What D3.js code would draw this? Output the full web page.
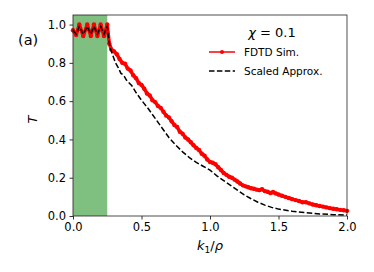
<!DOCTYPE html>
<html>
<head>
<meta charset="utf-8">
<script src="https://cdn.jsdelivr.net/npm/d3@7"></script>
<style>
  body { margin: 0; background: #fff; }
  text { font-family: "DejaVu Sans", sans-serif; }
</style>
</head>
<body>
<div id="chart"></div>
<script>
// FDTD simulation (red)
const simX = [0.000, 0.023, 0.046, 0.075, 0.104, 0.130, 0.153, 0.178, 0.202, 0.226, 0.250,
  0.265, 0.28, 0.30, 0.32, 0.34, 0.36, 0.38, 0.40, 0.42, 0.44, 0.46, 0.48, 0.50, 0.52, 0.54,
  0.56, 0.58, 0.60, 0.62, 0.64, 0.66, 0.68, 0.70, 0.72, 0.74, 0.76, 0.78, 0.80, 0.82, 0.84,
  0.86, 0.88, 0.90, 0.92, 0.94, 0.96, 0.98, 1.00, 1.02, 1.04, 1.06, 1.08, 1.10, 1.12, 1.14,
  1.16, 1.18, 1.20, 1.22, 1.24, 1.26, 1.28, 1.30, 1.32, 1.34, 1.36, 1.38, 1.40, 1.42, 1.44,
  1.46, 1.48, 1.50, 1.525, 1.55, 1.575, 1.60, 1.625, 1.65, 1.675, 1.70, 1.725, 1.75, 1.775,
  1.80, 1.825, 1.85, 1.875, 1.90, 1.925, 1.95, 1.975, 2.00]
const simT = [0.97, 0.945, 1.00, 0.94, 1.00, 0.94, 1.00, 0.94, 1.00, 0.94, 1.00,
  0.90, 0.87, 0.86, 0.845, 0.82, 0.80, 0.795, 0.77, 0.76, 0.735, 0.72, 0.695, 0.685, 0.665, 0.64,
  0.63, 0.605, 0.595, 0.575, 0.565, 0.545, 0.525, 0.515, 0.495, 0.475, 0.465, 0.44, 0.43, 0.41, 0.40,
  0.385, 0.37, 0.355, 0.345, 0.325, 0.315, 0.295, 0.282, 0.278, 0.27, 0.255, 0.24, 0.225, 0.215, 0.205,
  0.20, 0.19, 0.18, 0.17, 0.16, 0.155, 0.15, 0.145, 0.142, 0.138, 0.135, 0.14, 0.13, 0.127, 0.12,
  0.125, 0.118, 0.112, 0.106, 0.10, 0.094, 0.088, 0.083, 0.078, 0.072, 0.072, 0.066, 0.06, 0.056,
  0.052, 0.049, 0.045, 0.041, 0.038, 0.035, 0.032, 0.03, 0.027]

// scaled approximation (black dashed)
const apxX = [0.000, 0.023, 0.046, 0.075, 0.104, 0.130, 0.153, 0.178, 0.202, 0.226, 0.250,
  0.26, 0.27, 0.29, 0.31, 0.33, 0.35, 0.37, 0.39, 0.41, 0.43, 0.46, 0.50, 0.55, 0.60, 0.65,
  0.70, 0.75, 0.80, 0.85, 0.90, 0.95, 1.00, 1.05, 1.10, 1.15, 1.20, 1.25, 1.30, 1.35, 1.40,
  1.45, 1.50, 1.60, 1.70, 1.80, 1.90, 2.00]
const apxT = [0.97, 0.95, 0.99, 0.95, 0.99, 0.95, 0.99, 0.95, 0.99, 0.95, 0.99,
  0.93, 0.88, 0.84, 0.80, 0.775, 0.745, 0.735, 0.71, 0.695, 0.68, 0.645, 0.605, 0.56, 0.51, 0.46,
  0.41, 0.37, 0.335, 0.305, 0.28, 0.26, 0.24, 0.21, 0.185, 0.16, 0.135, 0.11, 0.09, 0.072, 0.057,
  0.045, 0.036, 0.025, 0.017, 0.011, 0.007, 0.005]

const band = [0, 0.25]
const xTicks = [0.0, 0.5, 1.0, 1.5, 2.0]
const yTicks = [0.0, 0.2, 0.4, 0.6, 0.8, 1.0]

const width = 374
const height = 272
const margin = {top: 15, right: 27, bottom: 56, left: 73}

const svg = d3.select("#chart")
    .append("svg")
    .attr("width", width)
    .attr("height", height)

const x = d3.scaleLinear().domain([0, 2]).range([margin.left, width - margin.right])
const y = d3.scaleLinear().domain([0, 1.05]).range([height - margin.bottom, margin.top])

// shaded region
svg.append("rect")
    .attr("x", x(band[0]))
    .attr("y", y(1.05))
    .attr("width", x(band[1]) - x(band[0]))
    .attr("height", y(0) - y(1.05))
    .attr("fill", "green")
    .attr("fill-opacity", 0.5)

const line = d3.line().x(d => x(d[0])).y(d => y(d[1]))
const simData = simX.map((v, i) => [v, simT[i]])
const apxData = apxX.map((v, i) => [v, apxT[i]])

svg.append("path")
    .datum(simData)
    .attr("fill", "none")
    .attr("stroke", "red")
    .attr("stroke-width", 3.5)
    .attr("stroke-linejoin", "round")
    .attr("d", line)

svg.append("g").selectAll("circle")
    .data(simData)
    .join("circle")
    .attr("cx", d => x(d[0]))
    .attr("cy", d => y(d[1]))
    .attr("r", 2.2)
    .attr("fill", "red")

svg.append("path")
    .datum(apxData)
    .attr("fill", "none")
    .attr("stroke", "black")
    .attr("stroke-width", 1.5)
    .attr("stroke-dasharray", "5.5,2.4")
    .attr("d", line)

// axes
svg.append("g")
    .attr("transform", `translate(0,${height - margin.bottom})`)
    .call(d3.axisBottom(x).tickValues(xTicks).tickFormat(d3.format(".1f")).tickSizeOuter(0).tickSize(3.5).tickPadding(3.5))
svg.append("g")
    .attr("transform", `translate(${margin.left},0)`)
    .call(d3.axisLeft(y).tickValues(yTicks).tickFormat(d3.format(".1f")).tickSizeOuter(0).tickSize(3.5).tickPadding(3.5))

svg.selectAll(".tick text").style("font-size", "11.5px").attr("fill", "#000")
svg.selectAll(".tick line").attr("stroke", "#000").attr("stroke-width", 0.8)
svg.selectAll(".domain").remove()

// frame
svg.append("rect")
    .attr("x", margin.left)
    .attr("y", margin.top)
    .attr("width", width - margin.left - margin.right)
    .attr("height", height - margin.top - margin.bottom)
    .attr("fill", "none")
    .attr("stroke", "#222")
    .attr("stroke-width", 0.8)

// labels
svg.append("text")
    .attr("x", 18).attr("y", 45)
    .style("font-size", "14.5px")
    .text("(a)")

svg.append("text")
    .attr("transform", `translate(37,${(margin.top + height - margin.bottom) / 2 + 4}) rotate(-90)`)
    .attr("text-anchor", "middle")
    .style("font-size", "13px")
    .style("font-style", "italic")
    .text("T")

const xl = svg.append("text")
    .attr("x", (margin.left + width - margin.right) / 2)
    .attr("y", 250)
    .attr("text-anchor", "middle")
    .style("font-size", "13px")
xl.append("tspan").style("font-style", "italic").text("k")
xl.append("tspan").attr("dy", 3).style("font-size", "9px").text("1")
xl.append("tspan").attr("dy", -3).text("/")
xl.append("tspan").style("font-style", "italic").text("ρ")

// legend
const lg = svg.append("g")
const title = lg.append("text")
    .attr("x", 272).attr("y", 37)
    .attr("text-anchor", "middle")
    .style("font-size", "13px")
title.append("tspan").style("font-style", "italic").text("χ")
title.append("tspan").text(" = 0.1")

lg.append("line")
    .attr("x1", 209).attr("x2", 235).attr("y1", 52).attr("y2", 52)
    .attr("stroke", "red").attr("stroke-width", 1.5)
lg.append("circle").attr("cx", 222).attr("cy", 52).attr("r", 2).attr("fill", "red")
lg.append("text").attr("x", 244).attr("y", 56)
    .style("font-size", "10.5px").text("FDTD Sim.")

lg.append("line")
    .attr("x1", 209).attr("x2", 235).attr("y1", 71).attr("y2", 71)
    .attr("stroke", "black").attr("stroke-width", 1.5)
    .attr("stroke-dasharray", "5.5,2.4")
lg.append("text").attr("x", 244).attr("y", 75)
    .style("font-size", "10.5px").text("Scaled Approx.")
</script>
</body>
</html>
